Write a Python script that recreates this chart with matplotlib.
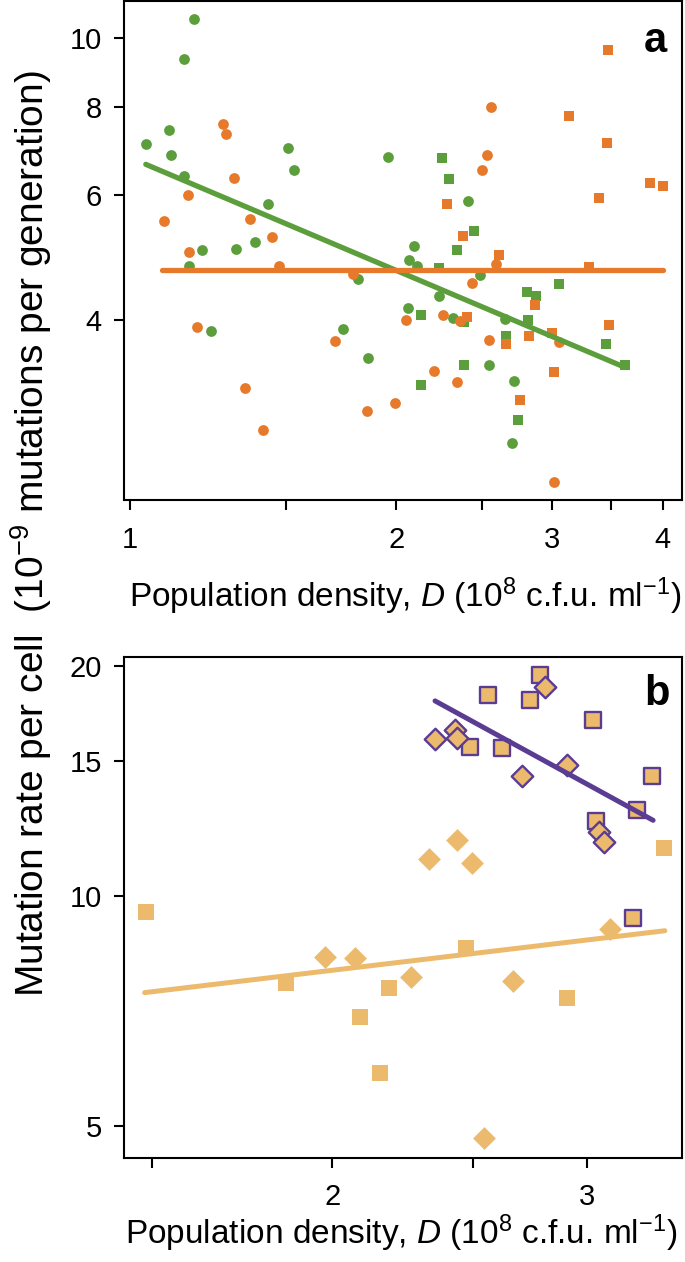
import numpy as np
import matplotlib
matplotlib.use("Agg")
import matplotlib.pyplot as plt
from matplotlib.ticker import FixedLocator, FixedFormatter, NullLocator

plt.rcParams['font.family'] = ['Liberation Sans', 'DejaVu Sans']
plt.rcParams['mathtext.fontset'] = 'custom'
plt.rcParams['mathtext.rm'] = 'Liberation Sans'
plt.rcParams['mathtext.it'] = 'Liberation Sans:italic'

GREEN = '#5c9e3b'
ORANGE = '#e6792a'
SAND = '#ecba6d'
PURPLE = '#5b3c93'

# ---- panel a data (density 10^8 cfu/ml, mutation rate 10^-9) ----
green_circ_x = [1.182, 1.151, 1.042, 1.108, 1.112, 1.151, 1.507, 1.532, 1.957, 1.432,
                1.206, 1.318, 1.383, 1.167, 1.811, 1.235, 1.740, 1.856, 2.094, 2.067,
                2.112, 2.486, 2.411, 2.236, 2.059, 2.316, 2.656, 2.543, 2.718, 2.702]
green_circ_y = [10.62, 9.33, 7.08, 7.41, 6.84, 6.39, 7.00, 6.51, 6.80, 5.82,
                5.02, 5.04, 5.15, 4.76, 4.57, 3.86, 3.88, 3.54, 5.09, 4.86,
                4.76, 4.63, 5.89, 4.32, 4.16, 4.03, 4.01, 3.46, 3.28, 2.68]
green_sq_x = [2.250, 2.293, 2.449, 2.341, 2.235, 3.053, 2.810, 2.876, 2.134,
              2.385, 2.818, 2.660, 3.452, 3.628, 2.385, 2.134, 2.742]
green_sq_y = [6.77, 6.32, 5.34, 5.02, 4.73, 4.49, 4.38, 4.33, 4.06,
              3.97, 4.00, 3.80, 3.70, 3.46, 3.45, 3.24, 2.89]
orange_circ_x = [1.275, 1.284, 1.312, 1.162, 1.092, 1.367, 1.446, 1.167, 1.475, 1.788,
                 1.191, 1.706, 1.350, 1.412, 1.851, 1.993, 2.558, 2.530, 2.501, 2.592,
                 2.433, 2.049, 2.256, 2.360, 2.543, 3.056, 2.208, 2.341, 3.013]
orange_circ_y = [7.56, 7.31, 6.35, 6.00, 5.51, 5.55, 5.23, 4.98, 4.76, 4.64,
                 3.91, 3.74, 3.21, 2.80, 2.98, 3.05, 8.00, 6.84, 6.52, 4.79,
                 4.51, 4.00, 4.06, 3.99, 3.75, 3.72, 3.39, 3.27, 2.36]
orange_sq_x = [3.468, 3.133, 3.459, 3.869, 4.002, 3.386, 2.283, 2.376, 2.610,
               3.301, 2.868, 2.402, 3.477, 3.000, 2.660, 2.826, 3.016, 2.759]
orange_sq_y = [9.62, 7.77, 7.11, 6.25, 6.18, 5.94, 5.82, 5.26, 4.94,
               4.75, 4.20, 4.04, 3.93, 3.84, 3.70, 3.80, 3.38, 3.08]

# fitted lines (end points)
green_fit_x = [1.042, 3.624]
green_fit_y = [6.63, 3.43]
orange_fit_x = [1.088, 4.005]
orange_fit_y = [4.70, 4.70]

# ---- panel b data ----
purple_sq_x = [2.782, 2.564, 2.738, 3.028, 2.490, 2.622, 3.327, 3.251, 3.044, 3.228]
purple_sq_y = [19.41, 18.31, 18.03, 16.97, 15.63, 15.58, 14.36, 12.94, 12.52, 9.36]
purple_dia_x = [2.804, 2.356, 2.430, 2.440, 2.705, 2.906, 3.060, 3.080]
purple_dia_y = [18.73, 16.01, 16.47, 16.06, 14.34, 14.82, 12.12, 11.77]
sand_sq_x = [1.485, 1.857, 2.187, 2.091, 2.158, 2.474, 2.904, 3.393]
sand_sq_y = [9.53, 7.68, 7.57, 6.94, 5.86, 8.54, 7.34, 11.54]
sand_dia_x = [2.440, 2.332, 2.498, 1.976, 2.074, 2.266, 2.665, 3.112, 2.546]
sand_dia_y = [11.82, 11.16, 11.03, 8.31, 8.28, 7.83, 7.74, 9.04, 4.82]

purple_fit_x = [2.355, 3.333]
purple_fit_y = [17.98, 12.55]
sand_fit_x = [1.483, 3.396]
sand_fit_y = [7.47, 9.00]

a_xticks = [1, 1.5, 2, 2.5, 3, 3.5, 4]
a_xlabels = ['1', '', '2', '', '3', '', '4']
a_yticks = [4, 6, 8, 10]
b_xticks = [1.5, 2, 2.5, 3, 3.5]
b_xlabels = ['', '2', '', '3', '']
b_yticks = [5, 10, 15, 20]

xlabel = r'Population density, $D$ (10$^8$ c.f.u. ml$^{-1}$)'
ylabel = r'Mutation rate per cell  (10$^{-9}$ mutations per generation)'

W, H = 685, 1262
fig = plt.figure(figsize=(W / 100, H / 100), dpi=100)


def style_axes(ax, xticks, xlabels, yticks, xpad):
    ax.set_xscale('log')
    ax.set_yscale('log')
    ax.xaxis.set_major_locator(FixedLocator(xticks))
    ax.xaxis.set_major_formatter(FixedFormatter(xlabels))
    ax.yaxis.set_major_locator(FixedLocator(yticks))
    ax.yaxis.set_major_formatter(FixedFormatter([str(t) for t in yticks]))
    ax.xaxis.set_minor_locator(NullLocator())
    ax.yaxis.set_minor_locator(NullLocator())
    for sp in ax.spines.values():
        sp.set_linewidth(1.5)
    ax.tick_params(direction='out', length=7, width=1.5, labelsize=21)
    ax.tick_params(axis='x', pad=xpad)
    ax.tick_params(axis='y', pad=9)


# panel a
ax = fig.add_axes([124 / W, 1 - 500 / H, 558 / W, 499 / H])
ax.scatter(green_circ_x, green_circ_y, s=60, marker='o', color=GREEN, lw=0, zorder=2)
ax.scatter(green_sq_x, green_sq_y, s=46, marker='s', color=GREEN, lw=0, zorder=2)
ax.scatter(orange_circ_x, orange_circ_y, s=60, marker='o', color=ORANGE, lw=0, zorder=2)
ax.scatter(orange_sq_x, orange_sq_y, s=46, marker='s', color=ORANGE, lw=0, zorder=2)
ax.plot(green_fit_x, green_fit_y, color=GREEN, lw=3.8, solid_capstyle='round', zorder=3)
ax.plot(orange_fit_x, orange_fit_y, color=ORANGE, lw=3.8, solid_capstyle='round', zorder=3)
style_axes(ax, a_xticks, a_xlabels, a_yticks, xpad=12)
ax.set_xlim(0.9845, 4.205)
ax.set_ylim(2.229, 11.27)
ax.text(0.953, 0.898, 'a', transform=ax.transAxes, fontsize=30, fontweight='bold',
        ha='center', va='baseline')

# panel b
bx = fig.add_axes([124 / W, 1 - 1158 / H, 558 / W, 501 / H])
bx.scatter(sand_sq_x, sand_sq_y, s=135, marker='s', color=SAND, lw=0, zorder=2)
bx.scatter(sand_dia_x, sand_dia_y, s=135, marker='D', color=SAND, lw=0, zorder=2)
bx.scatter(purple_sq_x, purple_sq_y, s=120, marker='s', facecolor=SAND,
           edgecolor=PURPLE, lw=1.7, zorder=2)
bx.scatter(purple_dia_x, purple_dia_y, s=120, marker='D', facecolor=SAND,
           edgecolor=PURPLE, lw=1.7, zorder=2)
bx.plot(sand_fit_x, sand_fit_y, color=SAND, lw=3.6, solid_capstyle='round', zorder=3)
bx.plot(purple_fit_x, purple_fit_y, color=PURPLE, lw=3.6, solid_capstyle='round', zorder=3)
style_axes(bx, b_xticks, b_xlabels, b_yticks, xpad=11)
bx.set_xlim(1.435, 3.49)
bx.set_ylim(4.54, 20.52)
bx.text(0.956, 0.904, 'b', transform=bx.transAxes, fontsize=30, fontweight='bold',
        ha='center', va='baseline')

# axis titles
fig.text(405 / W, 1 - 607 / H, xlabel, fontsize=24, ha='center', va='baseline')
fig.text(401 / W, 1 - 1244 / H, xlabel, fontsize=24, ha='center', va='baseline')
fig.text(31 / W, 1 - 534 / H, ylabel, rotation=90, fontsize=28, ha='center', va='center')

fig.savefig('out.png', dpi=100)
